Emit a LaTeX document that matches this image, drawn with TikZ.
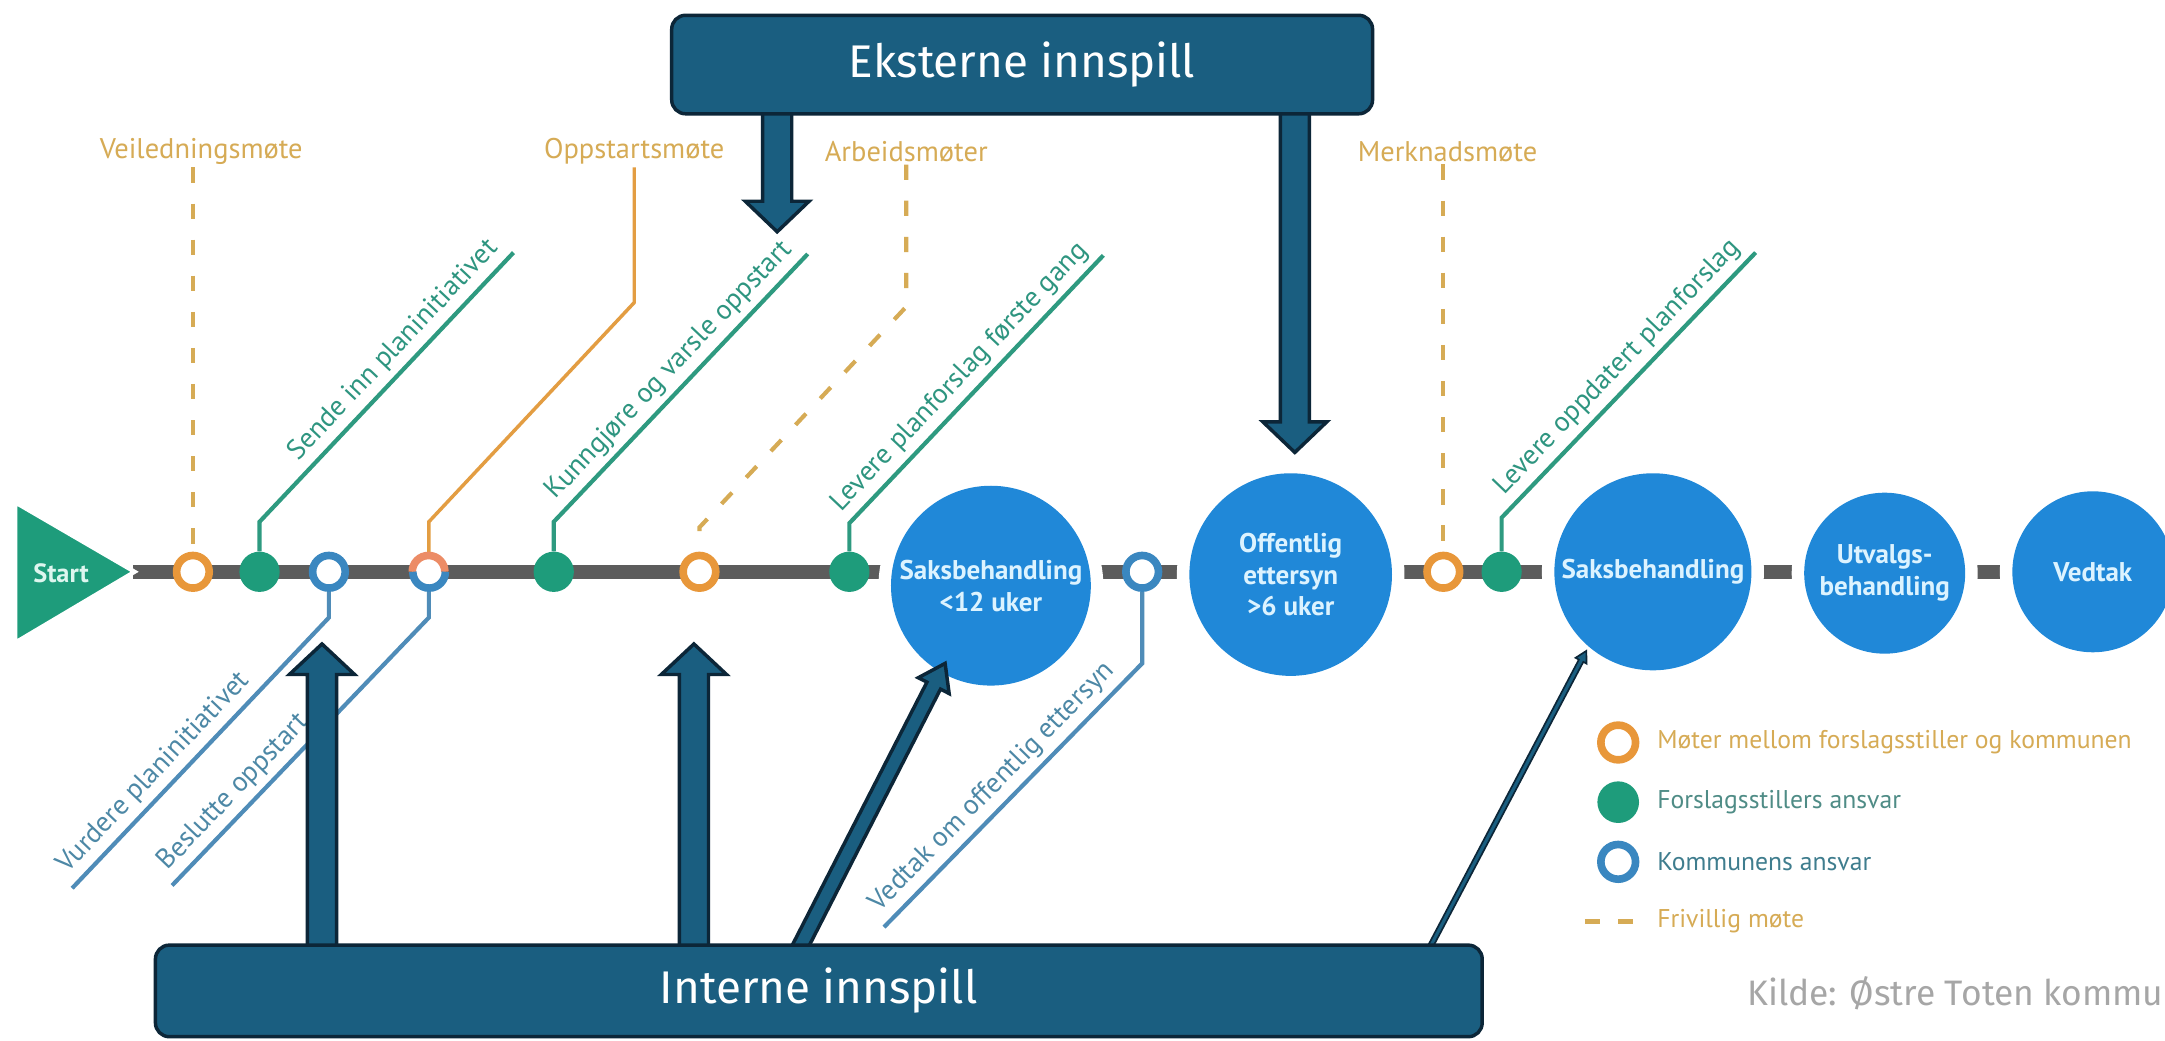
\documentclass[tikz,border=0pt]{standalone}
\usepackage{fontspec}
\setmainfont{PT Sans}
\newfontfamily\boxfont{Fira Sans}
\usetikzlibrary{calc}
\pgfdeclarelayer{bg}
\pgfdeclarelayer{lines}
\pgfdeclarelayer{diag}
\pgfdeclarelayer{arr}
\pgfsetlayers{bg,lines,diag,arr,main}
\definecolor{boxblue}{HTML}{1A5E80}
\definecolor{boxedge}{HTML}{0C2638}
\definecolor{circblue}{HTML}{2088D8}
\definecolor{circtext}{HTML}{DCF3FF}
\definecolor{startgreen}{HTML}{1E9C7B}
\definecolor{starttext}{HTML}{DDF6EF}
\definecolor{greenl}{HTML}{2E9A80}
\definecolor{greentext}{HTML}{2E9580}
\definecolor{orng}{HTML}{E8973A}
\definecolor{salmon}{HTML}{EC8C66}
\definecolor{gold}{HTML}{D6AB55}
\definecolor{ringblue}{HTML}{3A87C0}
\definecolor{bluel}{HTML}{4F8CB8}
\definecolor{bluetext}{HTML}{4D88A6}
\definecolor{linegray}{HTML}{5C5C5C}
\definecolor{kildegray}{HTML}{A6A6A6}
\definecolor{legteal}{HTML}{4F8C86}
\definecolor{legblue}{HTML}{3F7D8E}
\tikzset{
  iobox/.style={draw=boxedge, line width=2.5pt, fill=boxblue, rounded corners=10pt, text=white, font=\boxfont\fontsize{33}{38}\selectfont, inner sep=0pt},
  arrowshape/.style={draw=boxedge, line width=2.5pt, fill=boxblue, line join=miter},
  bigc/.style={circle, fill=circblue, inner sep=0pt, minimum size=#1, preaction={draw=white, line width=18pt}, text=circtext, font=\bfseries\fontsize{19.5}{23}\selectfont, align=center},
  ring/.style={circle, draw=#1, line width=5.5pt, fill=white, minimum size=23.5pt, inner sep=0pt},
  gdot/.style={circle, fill=startgreen, minimum size=29pt, inner sep=0pt},
  meetlabel/.style={text=gold, font=\fontsize{20.5}{24}\selectfont, inner sep=2pt},
  greenline/.style={draw=greenl, line width=3pt},
  blueline/.style={draw=bluel, line width=3pt},
  meetline/.style={draw=orng!70!gold, line width=2.5pt},
  dashline/.style={draw=gold, line width=3pt, dash pattern=on 11pt off 15pt},
  uptext/.style={text=greentext, font=\fontsize{20}{24}\selectfont, inner sep=4pt},
  lowtext/.style={text=bluetext, font=\fontsize{20}{24}\selectfont, inner sep=4pt},
  legtext/.style={anchor=west, font=\fontsize{18.5}{22}\selectfont, inner sep=0pt},
}
% block arrow: [style]{from}{to}{shaft half width}{head half width}{head length}
\newcommand\blockarrow[6][]{%
  \path (#2); \pgfgetlastxy{\bax}{\bay}%
  \path (#3); \pgfgetlastxy{\bbx}{\bby}%
  \pgfmathsetmacro\baang{atan2((\bby)-(\bay),(\bbx)-(\bax))}%
  \pgfmathsetmacro\balen{veclen((\bbx)-(\bax),(\bby)-(\bay))}%
  \pgfmathsetmacro\babase{\balen-#6}%
  \begin{scope}[shift={(\bax,\bay)}, rotate=\baang]
    \draw[arrowshape,#1] (0pt,-#4pt) -- (\babase pt,-#4pt) -- (\babase pt,-#5pt) -- (\balen pt,0pt) -- (\babase pt,#5pt) -- (\babase pt,#4pt) -- (0pt,#4pt) -- cycle;
  \end{scope}}
\begin{document}
\begin{tikzpicture}[x=1pt,y=-1pt]
\useasboundingbox (0,0) rectangle (1560,750);
\begin{pgfonlayer}{bg}
  \fill[white] (0,0) rectangle (1560,750);
\end{pgfonlayer}

% ---------- boxes ----------
\node[iobox, minimum width=505pt, minimum height=71pt] (ext) at (736.5,46.5) {Eksterne innspill};
\node[iobox, minimum width=956pt, minimum height=66pt] (int) at (590,714) {Interne innspill};

% ---------- diagram ----------
\begin{pgfonlayer}{diag}
  \draw[fill=startgreen, draw=white, line width=3pt] (11,362) -- (97,412) -- (11,463) -- cycle;
  \node[text=starttext, font=\bfseries\fontsize{19}{22}\selectfont] (start) at (44,413) {Start};
  \coordinate (tip) at (96,412);

  \node[bigc=144pt] (c1) at (714,422) {Saksbehandling\\<12 uker};
  \node[bigc=146pt] (c2) at (930,414) {Offentlig\\ettersyn\\>6 uker};
  \node[bigc=142pt] (c3) at (1191,412) {Saksbehandling};
  \node[bigc=116pt] (c4) at (1358,413) {Utvalgs-\\behandling};
  \node[bigc=116pt] (c5) at (1508,412) {Vedtak};

  \node[ring=orng] (m1) at (139,412) {};
  \node[gdot] (m2) at (187,412) {};
  \node[ring=ringblue] (m3) at (237,412) {};
  \node[circle, fill=white, minimum size=23.5pt, inner sep=0pt] (m4) at (309,412) {};
  \draw[salmon, line width=5.5pt] (m4.west) arc[start angle=180, end angle=360, radius=11.75];
  \draw[ringblue, line width=5.5pt] (m4.east) arc[start angle=0, end angle=180, radius=11.75];
  \node[gdot] (m5) at (399,412) {};
  \node[ring=orng] (m6) at (504,412) {};
  \node[gdot] (m7) at (612,412) {};
  \node[ring=ringblue] (m8) at (823,412) {};
  \node[ring=orng] (m9) at (1040,412) {};
  \node[gdot] (m10) at (1082,412) {};

  \node[meetlabel] (veil) at (145,109) {Veiledningsmøte};
  \node[meetlabel] (opp) at (457,109) {Oppstartsmøte};
  \node[meetlabel] (arb) at (653,109) {Arbeidsmøter};
  \node[meetlabel] (merk) at (1043,109) {Merknadsmøte};

  % legend
  \node[ring=orng, minimum size=25pt] (l1) at (1166,535) {};
  \node[legtext, text=gold] (l1t) at (1194,535) {Møter mellom forslagsstiller og kommunen};
  \node[gdot, minimum size=30pt] (l2) at (1166,578) {};
  \node[legtext, text=legteal] (l2t) at (1194,578) {Forslagsstillers ansvar};
  \node[ring=ringblue, minimum size=25pt] (l3) at (1166,621) {};
  \node[legtext, text=legblue] (l3t) at (1194,621) {Kommunens ansvar};
  \coordinate (d1) at (1142,664);
  \coordinate (d2) at (1178,664);
  \draw[dashline, dash pattern=on 11pt off 13pt] (d1) -- (d2);
  \node[legtext, text=gold] (l4t) at (1194,664) {Frivillig møte};

  \node[anchor=east, text=kildegray, font=\boxfont\fontsize{25.5}{30}\selectfont, inner sep=0pt] (kilde) at (1559,716) {Kilde: Østre Toten kommu};
\end{pgfonlayer}

% ---------- connectors of the timeline ----------
\begin{pgfonlayer}{lines}
  \draw[linegray, line width=10pt] (tip) -- (c5.center);
  % meetings
  \draw[dashline] (m1 |- veil.south) -- (m1.north);
  \draw[meetline] (opp.south) -- (457,218) -- (309,376) -- (m4.north);
  \draw[dashline] (arb.south) -- (653,221) -- (504,380) -- (m6.north);
  \draw[dashline] (m9 |- merk.south) -- (m9.north);
  % proposer steps
  \coordinate (g1) at (370,182);
  \coordinate (g2) at (582,183);
  \coordinate (g3) at (795,184);
  \coordinate (g4) at (1265,182);
  \draw[greenline] (m2.north) -- (187,376) -- (g1) node[pos=1, sloped, anchor=south east, uptext] {Sende inn planinitiativet};
  \draw[greenline] (m5.north) -- (399,376) -- (g2) node[pos=1, sloped, anchor=south east, uptext] {Kunngjøre og varsle oppstart};
  \draw[greenline] (m7.north) -- (612,377) -- (g3) node[pos=1, sloped, anchor=south east, uptext] {Levere planforslag første gang};
  \draw[greenline] (m10.north) -- (1082,373) -- (g4) node[pos=1, sloped, anchor=south east, uptext] {Levere oppdatert planforslag};
  % municipality steps
  \coordinate (b1) at (52,640);
  \coordinate (b2) at (124,638);
  \coordinate (b3) at (637,668);
  \draw[blueline] (b1) -- (237,445) node[pos=0, sloped, anchor=south west, lowtext] {Vurdere planinitiativet} -- (m3.south);
  \draw[blueline] (b2) -- (309,445) node[pos=0, sloped, anchor=south west, lowtext] {Beslutte oppstart} -- (m4.south);
  \draw[blueline] (b3) -- (823,478) node[pos=0, sloped, anchor=south west, lowtext] {Vedtak om offentlig ettersyn} -- (m8.south);
\end{pgfonlayer}

% ---------- input arrows ----------
\begin{pgfonlayer}{arr}
  \coordinate (e1s) at (560,76);   \coordinate (e1t) at (560,167);
  \coordinate (e2s) at (933,76);   \coordinate (e2t) at (933,326);
  \coordinate (i1s) at (232,687);  \coordinate (i1t) at (232,464);
  \coordinate (i2s) at (500,687);  \coordinate (i2t) at (500,464);
  \coordinate (i3s) at (574,687);  \coordinate (i3t) at (681,478);
  \coordinate (i4s) at (1028,687); \coordinate (i4t) at (1143,469);
  \blockarrow{e1s}{e1t}{10.5}{23}{22}
  \blockarrow{e2s}{e2t}{10.5}{23}{22}
  \blockarrow{i1s}{i1t}{10.5}{23.5}{22}
  \blockarrow{i2s}{i2t}{10.5}{23.5}{22}
  \blockarrow{i3s}{i3t}{5.5}{12.5}{18}
  \blockarrow[line width=1.2pt]{i4s}{i4t}{1.8}{4.5}{8}
\end{pgfonlayer}
\end{tikzpicture}
\end{document}
